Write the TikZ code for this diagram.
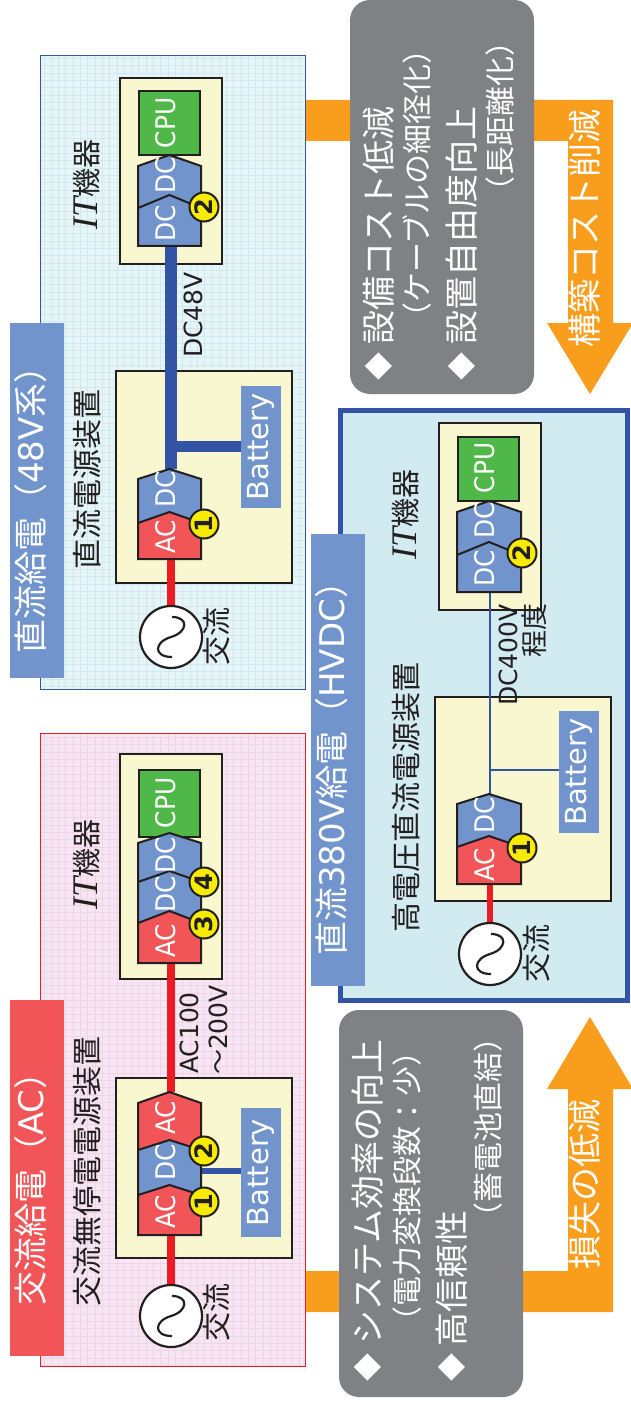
\documentclass[tikz,border=0pt]{standalone}
\usepackage{fontspec}
\setmainfont{DejaVu Sans}
\newfontfamily\jp{Noto Sans CJK JP}
\newfontfamily\narrowlat[FakeStretch=0.92]{DejaVu Sans}
\newfontfamily\itf{Liberation Serif}[ItalicFont=* Italic]
\definecolor{ink}{HTML}{231F20}
\definecolor{acred}{HTML}{F15557}
\definecolor{wire}{HTML}{ED1C24}
\definecolor{dcblue}{HTML}{7294CC}
\definecolor{busblue}{HTML}{3353A4}
\definecolor{cpugreen}{HTML}{50B848}
\definecolor{cream}{HTML}{F9F7D0}
\definecolor{badge}{HTML}{F7EC00}
\definecolor{orange1}{HTML}{F99D1C}
\definecolor{grey1}{HTML}{808184}
\definecolor{pinkbg}{HTML}{F6E6F1}
\definecolor{pinkgrid}{HTML}{F0D3E6}
\definecolor{cyanbg}{HTML}{E6F5F7}
\definecolor{cyangrid}{HTML}{CFE9EF}
\definecolor{hvbg}{HTML}{D1EBF1}
\newcommand\fs[1]{\fontsize{#1}{#1}\selectfont}
\newcommand\tlat[1]{{\rmfamily\fs{34}#1}}
% rectangle node: name, x1, y1, x2, y2, style
\newcommand\recta[6]{\node[#6,inner sep=0pt,minimum width={(#4-#2)*1pt},minimum height={(#5-#3)*1pt}] (#1) at ({(#2+#4)/2},{(#3+#5)/2}) {};}
% converter: xl, xr, apex, shoulder, bottom, fill
\newcommand\conv[6]{\draw[conv,fill=#6] (#1,#5) -- (#1,#4) -- ({(#1+#2)/2},#3) -- (#2,#4) -- (#2,#5) -- cycle;}
% AC source: name, x, y
\newcommand\acsrc[3]{\node[srccirc] (#1) at (#2,#3) {};
  \draw[sinecurve,shift={(#1.center)}] (1,-20) .. controls (18,-20) and (17,-5) .. (0,0) .. controls (-17,5) and (-18,20) .. (1,20);}
\newcommand\badgeat[4]{\node[badgenode] (#1) at (#2,#3) {\rotatebox{90}{#4}};}
\newcommand\itkiki{{\itf\itshape\fs{36}IT}{\jp\fs{29}機器}}
\tikzset{
  x=1pt,y=-1pt,
  conv/.style={draw=ink,line width=2pt,line join=miter},
  srccirc/.style={circle,draw=ink,fill=white,line width=2.2pt,minimum size=62pt,inner sep=0pt},
  sinecurve/.style={draw=ink,line width=2.2pt},
  badgenode/.style={circle,draw=ink,fill=badge,line width=2pt,minimum size=29pt,inner sep=0pt,text=ink,font=\bfseries\fs{24}},
  whitetxt/.style={rotate=90,inner sep=0pt,text=white},
  darktxt/.style={rotate=90,inner sep=0pt,text=ink},
  lbl/.style={whitetxt,font=\narrowlat\fs{27}},
  batlbl/.style={whitetxt,font=\fs{29}},
  dlat/.style={darktxt,font=\fs{25}},
  jpdark/.style={darktxt,anchor=west,font=\jp\fs{30}},
  jpsrc/.style={darktxt,font=\jp\fs{29}},
  jptitle/.style={whitetxt,anchor=west,font=\jp\fs{34}},
  jpnote/.style={whitetxt,anchor=west,font=\jp\fs{30}},
  bullet/.style={whitetxt,font=\jp\fs{28}},
  itlabel/.style={darktxt,anchor=west},
  cream box/.style={draw=ink,fill=cream,line width=2pt},
  cpu box/.style={draw=ink,fill=cpugreen,line width=2pt},
  bat box/.style={fill=dcblue},
  title red/.style={fill=acred},
  title blue/.style={fill=dcblue},
  grey box/.style={fill=grey1,rounded corners=20pt},
  redwire/.style={draw=wire,line width=8pt},
  bus/.style={draw=busblue},
  orange shape/.style={fill=orange1},
}
\begin{document}
\begin{tikzpicture}
\useasboundingbox (0,0) rectangle (630,1404);
% ---------- orange bands and arrows
\fill[orange shape] (304,1271) -- (568,1271) -- (568,1089) -- (547,1089) -- (590,1017) -- (633,1089) -- (613,1089) -- (613,1312) -- (304,1312) -- cycle;
\fill[orange shape] (304,141) -- (568,141) -- (568,323) -- (547,323) -- (590,394) -- (633,323) -- (613,323) -- (613,100) -- (304,100) -- cycle;
% ---------- panels
\recta{acpanel}{40}{733}{305}{1366}{draw=wire,fill=pinkbg,line width=1pt}
\draw[pinkgrid,line width=.5pt,step=7.3pt] (40.5,733.5) grid (304.5,1365.5);
\draw[wire,line width=1pt] (40,733) rectangle (305,1366);
\recta{dcpanel}{40}{56}{305}{689}{draw=busblue,fill=cyanbg,line width=1pt}
\draw[cyangrid,line width=.5pt,step=7.3pt] (40.5,56.5) grid (304.5,688.5);
\draw[busblue,line width=1pt] (40,56) rectangle (305,689);
\recta{hvpanel}{340.5}{410.5}{627.5}{1000.5}{draw=busblue,fill=hvbg,line width=5pt}
% ---------- title bars
\recta{actitlebar}{10}{1000}{64}{1356}{title red}
\recta{dctitlebar}{10}{323}{64}{678}{title blue}
\recta{hvtitlebar}{311}{534}{365}{986}{title blue}
\node[jptitle] (actitle) at (31,1306) {交流給電（\tlat{AC}）};
\node[jptitle] (dctitle) at (31,654) {直流給電（\tlat{48V}系）};
\node[jptitle] (hvtitle) at (332,956) {直流\tlat{380V}給電（\tlat{HVDC}）};
% ---------- AC system
\node[jpdark] (acupslbl) at (87,1307) {交流無停電電源装置};
\node[itlabel] (acitlbl) at (87,910) {\itkiki};
\recta{acups}{116}{1078}{292}{1258}{cream box}
\recta{acit}{120}{754}{222}{979}{cream box}
\acsrc{acsource}{171}{1316}
\node[jpsrc] (acsrclbl) at (217,1312) {交流};
\coordinate (acupsin) at (171,1235);
\coordinate (acupsout) at (171,1092);
\coordinate (acitin) at (171,963);
\draw[redwire] (acsource.north) -- (acupsin);
\draw[redwire] (acupsout) -- (acitin);
\recta{acbat}{241}{1108}{281}{1237}{bat box}
\coordinate (acbattap) at (201,1170.5);
\draw[bus,line width=6pt] (acbattap) -- (acbat.west |- acbattap);
\conv{138}{201}{1092}{1103}{1160}{acred}
\conv{138}{201}{1140}{1150}{1200}{dcblue}
\conv{138}{201}{1185}{1195}{1235}{acred}
\node[lbl] (acu1) at (166,1212) {AC};
\node[lbl] (acu2) at (166,1162) {DC};
\node[lbl] (acu3) at (166,1118) {AC};
\node[batlbl] (acbatlbl) at (acbat.center) {Battery};
\badgeat{acb1}{204}{1202}{1}
\badgeat{acb2}{204}{1151}{2}
\node[cpu box,inner sep=0pt,minimum width=61pt,minimum height=67pt] (accpu) at (169.5,803.5) {};
\conv{138}{201}{833}{843}{890}{dcblue}
\conv{138}{201}{871}{882}{930}{dcblue}
\conv{138}{201}{911}{923}{963}{acred}
\node[lbl] (aci1) at (166,941) {AC};
\node[lbl] (aci2) at (166,894) {DC};
\node[lbl] (aci3) at (166,855) {DC};
\node[lbl] (aci4) at (166,803) {CPU};
\badgeat{acb3}{204}{924}{3}
\badgeat{acb4}{204}{882}{4}
\node[dlat] (aclbl1) at (189,1033) {AC100};
\node[dlat] (aclbl2) at (218,1030) {{\jp ～}200V};
% ---------- 48V system
\node[jpdark] (dcpslbl) at (87,570) {直流電源装置};
\node[itlabel] (dcitlbl) at (87,230) {\itkiki};
\recta{dcps}{116}{371}{292}{583}{cream box}
\recta{dcit}{120}{78}{222}{264}{cream box}
\acsrc{dcsource}{171}{637}
\node[jpsrc] (dcsrclbl) at (217,636) {交流};
\coordinate (dcpsin) at (171,559);
\coordinate (dcpsout) at (171,469);
\coordinate (dcitin) at (171,247);
\coordinate (dctap) at (171,446);
\draw[redwire] (dcsource.north) -- (dcpsin);
\draw[bus,line width=12pt] (dcpsout) -- (dcitin);
\recta{dcbat}{241}{386}{281}{508}{bat box}
\draw[bus,line width=11pt] (dctap) -- (dcbat.west |- dctap);
\conv{138}{201}{469}{479}{530}{dcblue}
\conv{138}{201}{512}{523}{559}{acred}
\node[lbl] (dcu1) at (166,537) {AC};
\node[lbl] (dcu2) at (166,489) {DC};
\node[batlbl] (dcbatlbl) at (dcbat.center) {Battery};
\badgeat{dcb1}{204}{524}{1}
\node[cpu box,inner sep=0pt,minimum width=61pt,minimum height=64pt] (dccpu) at (169.5,123) {};
\conv{138}{201}{155}{166}{215}{dcblue}
\conv{138}{201}{195}{208}{246}{dcblue}
\node[lbl] (dci1) at (166,223) {DC};
\node[lbl] (dci2) at (166,175) {DC};
\node[lbl] (dci3) at (166,123) {CPU};
\badgeat{dcb2}{204}{207}{2}
\node[dlat] (dclbl) at (193,315) {DC48V};
% ---------- HVDC system
\node[jpdark] (hvpslbl) at (406,933) {高電圧直流電源装置};
\node[itlabel] (hvitlbl) at (406,560) {\itkiki};
\recta{hvps}{435}{697}{611}{901}{cream box}
\recta{hvit}{439}{423}{541}{610}{cream box}
\acsrc{hvsource}{490}{954}
\node[jpsrc] (hvsrclbl) at (537,953) {交流};
\coordinate (hvpsin) at (490,884);
\coordinate (hvpsout) at (490,794);
\coordinate (hvitin) at (490,592);
\coordinate (hvtap) at (490,770);
\draw[draw=wire,line width=6pt] (hvsource.north) -- (hvpsin);
\draw[bus,line width=1.5pt] (hvpsout) -- (hvitin);
\recta{hvbat}{559}{711}{599}{833}{bat box}
\draw[bus,line width=1.5pt] (hvtap) -- (hvbat.west |- hvtap);
\conv{457}{521}{794}{804}{855}{dcblue}
\conv{457}{521}{836}{847}{884}{acred}
\node[lbl] (hvu1) at (485,865) {AC};
\node[lbl] (hvu2) at (485,815) {DC};
\node[batlbl] (hvbatlbl) at (hvbat.center) {Battery};
\badgeat{hvb1}{522}{848}{1}
\node[cpu box,inner sep=0pt,minimum width=61pt,minimum height=64pt] (hvcpu) at (488.5,469) {};
\conv{457}{521}{501}{512}{560}{dcblue}
\conv{457}{521}{542}{555}{592}{dcblue}
\node[lbl] (hvi1) at (485,568) {DC};
\node[lbl] (hvi2) at (485,520) {DC};
\node[lbl] (hvi3) at (485,468) {CPU};
\badgeat{hvb2}{522}{553}{2}
\node[dlat] (hvlbl1) at (508,655) {DC400V};
\node[darktxt,font=\jp\fs{27}] (hvlbl2) at (534,630) {程度};
% ---------- grey boxes
\recta{lossbox}{339}{1010}{523}{1397}{grey box}
\node[bullet] (lb1) at (368,1367) {◆};
\node[jptitle] (lt1) at (368,1345) {システム効率の向上};
\node[jpnote] (lt2) at (407,1337) {（電力変換段数：少）};
\node[bullet] (lb2) at (452,1367) {◆};
\node[jptitle] (lt3) at (452,1347) {高信頼性};
\node[jpnote] (lt4) at (488,1233) {（蓄電池直結）};
\node[jptitle] (lossarrow) at (585,1270) {損失の低減};
\recta{costbox}{350}{0}{534}{394}{grey box}
\node[bullet] (cb1) at (379,366) {◆};
\node[jptitle] (ct1) at (379,345) {設備コスト低減};
\node[jpnote] (ct2) at (417,333) {（ケーブルの細径化）};
\node[bullet] (cb2) at (462,366) {◆};
\node[jptitle] (ct3) at (462,345) {設置自由度向上};
\node[jpnote] (ct4) at (500,207) {（長距離化）};
\node[jptitle] (costarrow) at (585,348) {構築コスト削減};
\end{tikzpicture}
\end{document}
